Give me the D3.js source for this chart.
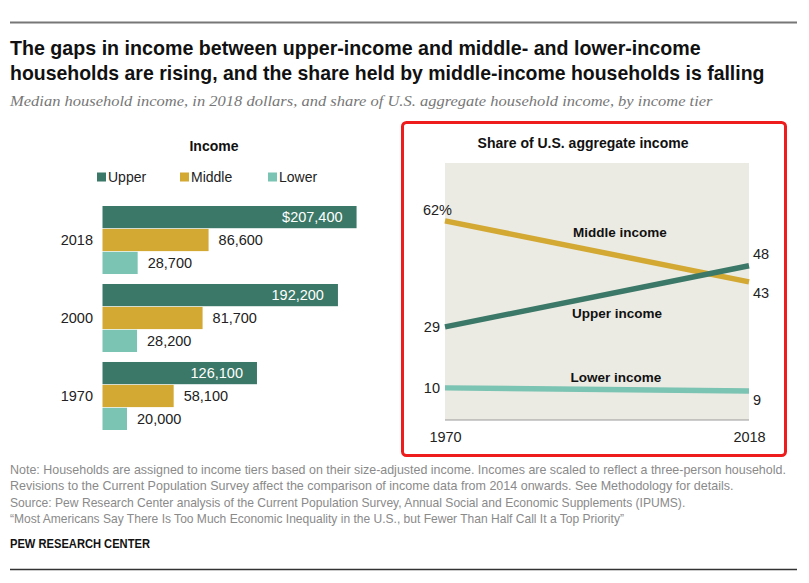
<!DOCTYPE html>
<html><head><meta charset="utf-8">
<script src="https://cdn.jsdelivr.net/npm/d3@7"></script>
<style>
html,body{margin:0;padding:0;background:#fff;}
svg{display:block;}
</style></head>
<body><svg id="chart" width="809" height="583" font-family="'Liberation Sans',Arial,sans-serif"></svg>
<script>
// ---------- data ----------
const years = ["2018", "2000", "1970"];
const tiers = ["Upper", "Middle", "Lower"];
const upperIncome = [207400, 192200, 126100];
const middleIncome = [86600, 81700, 58100];
const lowerIncome = [28700, 28200, 20000];

const shareYears = [1970, 2018];
const upperShare = [29, 48];
const middleShare = [62, 43];
const lowerShare = [10, 9];
const shareLabels = ["Upper income", "Middle income", "Lower income"];

const titleLines = [
  "The gaps in income between upper-income and middle- and lower-income",
  "households are rising, and the share held by middle-income households is falling"
];
const subtitle = "Median household income, in 2018 dollars, and share of U.S. aggregate household income, by income tier";
const noteLines = [
  "Note: Households are assigned to income tiers based on their size-adjusted income. Incomes are scaled to reflect a three-person household.",
  "Revisions to the Current Population Survey affect the comparison of income data from 2014 onwards. See Methodology for details.",
  "Source: Pew Research Center analysis of the Current Population Survey, Annual Social and Economic Supplements (IPUMS).",
  "\u201CMost Americans Say There Is Too Much Economic Inequality in the U.S., but Fewer Than Half Call It a Top Priority\u201D"
];

const colors = {Upper: "#3b7867", Middle: "#d3a833", Lower: "#7bc3b2"};
const NARROW = "'Liberation Sans Narrow','Arial Narrow','Liberation Sans',sans-serif";

const svg = d3.select("#chart");

// helper: draw a text line squeezed horizontally to a target width
function fitText(sel, x, y, width) {
  const node = sel.node();
  const w = node.getComputedTextLength();
  const sx = w > 0 ? width / w : 1;
  sel.attr("x", 0).attr("y", 0).attr("transform", `translate(${x},${y}) scale(${sx},1)`);
}

// ---------- header ----------
svg.append("line").attr("x1", 10).attr("x2", 797).attr("y1", 22.5).attr("y2", 22.5)
  .attr("stroke", "#777").attr("stroke-width", 2);

const titleWidths = [691, 755];
titleLines.forEach((t, i) => {
  const s = svg.append("text")
    .style("font-family", NARROW)
    .attr("font-weight", "bold").attr("font-size", 19.5).attr("fill", "#111")
    .text(t);
  fitText(s, 10, 55 + i * 24.5, titleWidths[i]);
});
const sub = svg.append("text")
  .style("font-family", "'Liberation Serif','DejaVu Serif',Georgia,serif").attr("font-style", "italic")
  .attr("font-size", 15.5).attr("fill", "#777")
  .text(subtitle);
fitText(sub, 10, 106, 703);

// ---------- left: income bars ----------
const barData = years.map((y, i) => ({
  year: y,
  values: [
    {tier: "Upper", v: upperIncome[i]},
    {tier: "Middle", v: middleIncome[i]},
    {tier: "Lower", v: lowerIncome[i]}
  ]
}));

const xBar = d3.scaleLinear().domain([0, 200000]).range([102.5, 102.5 + 245]);
const yGroup = d3.scaleBand().domain(years).range([206, 430]).paddingInner(0.128);
const yTier = d3.scaleBand().domain(tiers).range([0, yGroup.bandwidth()]).paddingInner(0.03);
const fmt = d3.format(",");

svg.append("text").attr("x", 214).attr("y", 151).attr("text-anchor", "middle")
  .attr("font-weight", "bold").attr("font-size", 14).attr("fill", "#111").text("Income");

const legendX = d3.scaleOrdinal().domain(tiers).range([97, 180, 268]);
const leg = svg.append("g").selectAll("g").data(tiers).join("g")
  .attr("transform", d => `translate(${legendX(d)},177)`);
leg.append("rect").attr("x", 0).attr("y", -4.5).attr("width", 9).attr("height", 9)
  .attr("fill", d => colors[d]);
leg.append("text").attr("x", 11).attr("y", 5).attr("font-size", 14).attr("fill", "#222").text(d => d);

const groups = svg.append("g").selectAll("g").data(barData).join("g")
  .attr("transform", d => `translate(0,${yGroup(d.year)})`);

groups.append("text").attr("x", 93).attr("y", yTier("Middle") + yTier.bandwidth() / 2 + 5)
  .attr("text-anchor", "end").attr("font-size", 14.5).attr("fill", "#222").text(d => d.year);

groups.selectAll("rect").data(d => d.values).join("rect")
  .attr("x", xBar(0)).attr("y", d => yTier(d.tier))
  .attr("width", d => xBar(d.v) - xBar(0)).attr("height", yTier.bandwidth())
  .attr("fill", d => colors[d.tier]);

groups.selectAll("text.val").data((d, gi) => d.values.map(v => ({...v, first: gi === 0}))).join("text")
  .attr("class", "val")
  .attr("x", d => d.tier === "Upper" ? xBar(d.v) - 14 : xBar(d.v) + 10)
  .attr("y", d => yTier(d.tier) + yTier.bandwidth() / 2 + 5)
  .attr("text-anchor", d => d.tier === "Upper" ? "end" : "start")
  .attr("font-size", 14.5)
  .attr("fill", d => d.tier === "Upper" ? "#fff" : "#222")
  .text(d => (d.tier === "Upper" && d.first ? "$" : "") + fmt(d.v));

// ---------- right: share lines ----------
svg.append("rect").attr("x", 402.5).attr("y", 122.5).attr("width", 383).attr("height", 333)
  .attr("rx", 4).attr("fill", "none").attr("stroke", "#ee1c1c").attr("stroke-width", 3);

svg.append("text").attr("x", 583).attr("y", 148).attr("text-anchor", "middle")
  .attr("font-weight", "bold").attr("font-size", 14).attr("fill", "#111")
  .text("Share of U.S. aggregate income");

const xLine = d3.scalePoint().domain(shareYears).range([445, 749]);
const yLine = d3.scaleLinear().domain([0, 80]).range([420, 163]);

svg.append("rect").attr("x", 445).attr("y", 163).attr("width", 304).attr("height", 257)
  .attr("fill", "#ecebe3");

const xAxis = svg.append("g").attr("transform", "translate(0,420)")
  .call(d3.axisBottom(xLine).tickSize(0).tickPadding(12));
xAxis.select(".domain").attr("stroke", "#999").attr("stroke-width", 1.2).attr("d", "M445,0H749");
xAxis.selectAll("text").attr("font-size", 14.5).attr("fill", "#222")
  .attr("font-family", "'Liberation Sans',Arial,sans-serif");

const series = [
  {name: "Middle", vals: middleShare},
  {name: "Upper", vals: upperShare},
  {name: "Lower", vals: lowerShare}
];
const lineGen = d3.line().x((d, i) => xLine(shareYears[i])).y(d => yLine(d));
svg.append("g").selectAll("path").data(series).join("path")
  .attr("d", d => lineGen(d.vals)).attr("fill", "none")
  .attr("stroke", d => colors[d.name]).attr("stroke-width", 5.5);

// end-point labels
const startLbl = [
  {t: "62%", v: middleShare[0], dx: 7, dy: -11},
  {t: "29", v: upperShare[0], dx: -5, dy: 0},
  {t: "10", v: lowerShare[0], dx: -5, dy: 0}
];
svg.append("g").selectAll("text").data(startLbl).join("text")
  .attr("x", d => xLine(1970) + d.dx).attr("y", d => yLine(d.v) + d.dy + 5)
  .attr("text-anchor", "end").attr("font-size", 14.5).attr("fill", "#222").text(d => d.t);

const endLbl = [
  {t: "48", v: upperShare[1], dy: -12},
  {t: "43", v: middleShare[1], dy: 11},
  {t: "9", v: lowerShare[1], dy: 9}
];
svg.append("g").selectAll("text").data(endLbl).join("text")
  .attr("x", xLine(2018) + 4).attr("y", d => yLine(d.v) + d.dy + 5)
  .attr("font-size", 14.5).attr("fill", "#222").text(d => d.t);

// series labels
const seriesLbl = [
  {t: shareLabels[1], v: 58.5, x: 620},
  {t: shareLabels[0], v: 33.3, x: 617},
  {t: shareLabels[2], v: 13.5, x: 616}
];
svg.append("g").selectAll("text").data(seriesLbl).join("text")
  .attr("x", d => d.x).attr("y", d => yLine(d.v) + 5)
  .attr("text-anchor", "middle").attr("font-weight", "bold").attr("font-size", 13.5)
  .attr("fill", "#111").text(d => d.t);

// ---------- footer ----------
const noteWidths = [777, 724, 676, 615];
noteLines.forEach((t, i) => {
  const s = svg.append("text")
    .style("font-family", NARROW)
    .attr("font-size", 13).attr("fill", "#8a8a8a")
    .text(t);
  fitText(s, 10, 474 + i * 16.3, noteWidths[i]);
});
const pew = svg.append("text")
  .style("font-family", NARROW)
  .attr("font-weight", "bold").attr("font-size", 13.5).attr("fill", "#111")
  .text("PEW RESEARCH CENTER");
fitText(pew, 10, 548, 140);
svg.append("line").attr("x1", 10).attr("x2", 797).attr("y1", 569.5).attr("y2", 569.5)
  .attr("stroke", "#333").attr("stroke-width", 1.5);
</script>
</body></html>
